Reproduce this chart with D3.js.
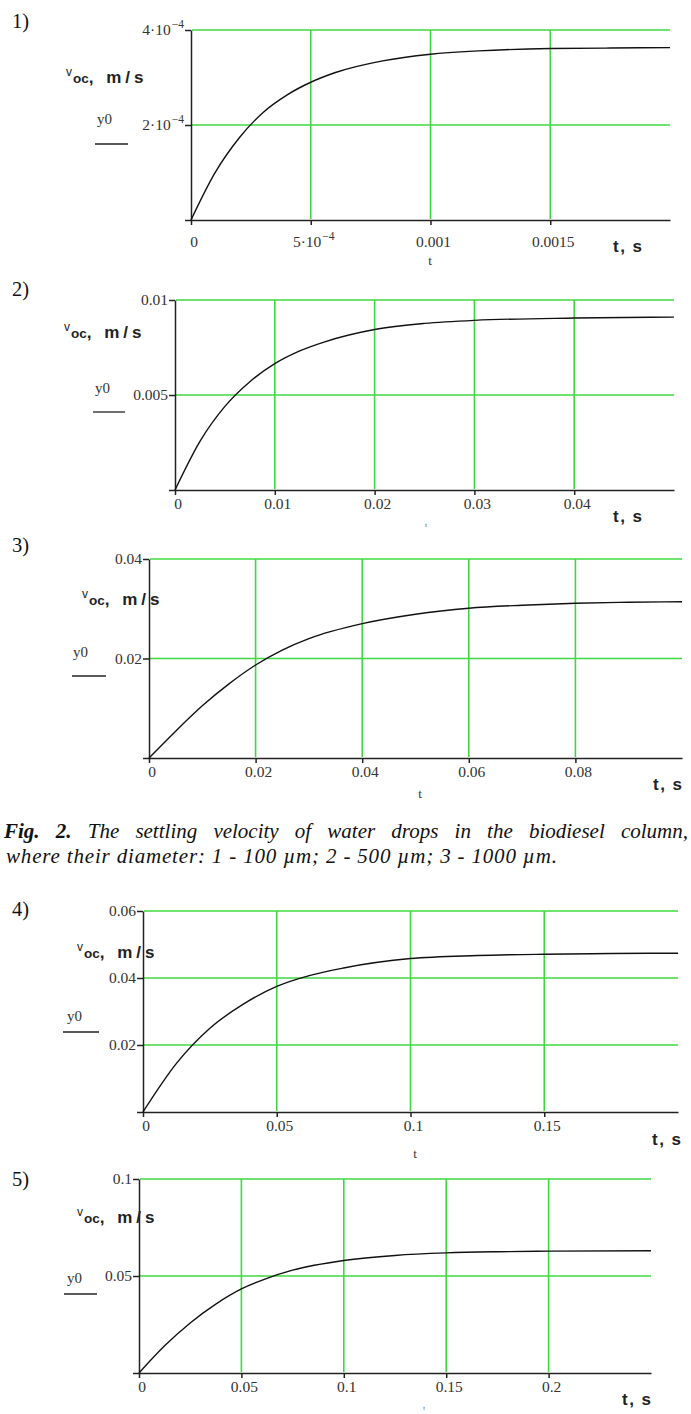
<!DOCTYPE html>
<html>
  <head>
    <style>
      body {
        margin: 0;
        background: #fff;
      }
      svg {
        display: block;
      }
      .grid {
        stroke: #3fd93f;
        stroke-width: 1.6px;
      }
      .axis path, .axis line {
        stroke: #222;
        stroke-width: 1.5px;
      }
      .tick-label {
        font-family: "Liberation Serif", serif;
        font-size: 15.5px;
        fill: #333;
      }
      .curve {
        fill: none;
        stroke: #111;
        stroke-width: 1.4px;
      }
    </style>
  </head>
  <body>
    <script src="https://d3js.org/d3.v7.min.js"></script>
    <script>
      // values: t in s, v in m/s
      const t1 = [0, 1e-4, 2e-4, 3e-4, 4e-4, 5e-4, 6e-4, 8e-4, 1e-3, 1.2e-3, 1.5e-3, 1.75e-3, 2e-3],
          v1 = [0, 0.99e-4, 1.72e-4, 2.26e-4, 2.63e-4, 2.90e-4, 3.10e-4, 3.35e-4, 3.49e-4, 3.56e-4, 3.61e-4, 3.62e-4, 3.63e-4];
      const t2 = [0, 0.0025, 0.005, 0.0075, 0.01, 0.0125, 0.015, 0.02, 0.025, 0.03, 0.04, 0.05],
          v2 = [0, 0.00256, 0.0044, 0.0057, 0.00665, 0.00732, 0.0078, 0.00845, 0.00877, 0.00893, 0.00905, 0.0091];
      const t3 = [0, 0.005, 0.01, 0.015, 0.02, 0.025, 0.03, 0.04, 0.05, 0.06, 0.07, 0.08, 0.09, 0.1],
          v3 = [0, 0.0054, 0.0105, 0.0149, 0.0187, 0.0217, 0.024, 0.027, 0.0289, 0.0301, 0.0307, 0.0311, 0.0313, 0.0314];
      const t4 = [0, 0.0125, 0.025, 0.0375, 0.05, 0.0625, 0.075, 0.1, 0.125, 0.15, 0.175, 0.2],
          v4 = [0, 0.0145, 0.025, 0.0322, 0.0375, 0.0408, 0.043, 0.0458, 0.0467, 0.0471, 0.0473, 0.0474];
      const t5 = [0, 0.0125, 0.025, 0.0375, 0.05, 0.0625, 0.075, 0.1, 0.125, 0.15, 0.175, 0.2, 0.25],
          v5 = [0, 0.014, 0.0258, 0.0355, 0.0433, 0.0488, 0.053, 0.058, 0.0606, 0.0619, 0.0625, 0.0628, 0.063];

      const xMax = [0.002, 0.05, 0.1, 0.2, 0.25],
          yMax = [4e-4, 0.01, 0.04, 0.06, 0.1];

      const xTicks = [
        [0, 5e-4, 0.001, 0.0015],
        [0, 0.01, 0.02, 0.03, 0.04],
        [0, 0.02, 0.04, 0.06, 0.08],
        [0, 0.05, 0.1, 0.15],
        [0, 0.05, 0.1, 0.15, 0.2]
      ];
      const xLabels = [
        ["0", "5·10^−4", "0.001", "0.0015"],
        ["0", "0.01", "0.02", "0.03", "0.04"],
        ["0", "0.02", "0.04", "0.06", "0.08"],
        ["0", "0.05", "0.1", "0.15"],
        ["0", "0.05", "0.1", "0.15", "0.2"]
      ];
      const yTicks = [
        [2e-4, 4e-4],
        [0.005, 0.01],
        [0.02, 0.04],
        [0.02, 0.04, 0.06],
        [0.05, 0.1]
      ];
      const yLabels = [
        ["2·10^−4", "4·10^−4"],
        ["0.005", "0.01"],
        ["0.02", "0.04"],
        ["0.02", "0.04", "0.06"],
        ["0.05", "0.1"]
      ];
      const panelNames = ["1)", "2)", "3)", "4)", "5)"];
      const series = [[t1, v1], [t2, v2], [t3, v3], [t4, v4], [t5, v5]];

      // where each panel sits on the page
      const layout = [
        {box: [191, 670, 30, 220], num: [12, 28], vl: [66, 83], y0: [97, 124, 95, 128, 144], tl: [430, 265, 13], ts: [613, 252], xDy: 27},
        {box: [175, 674, 300, 490], num: [12, 296], vl: [64, 338], y0: [95, 393, 93, 125, 412], tl: [426, 527, 6], ts: [613, 522], xDy: 19},
        {box: [149, 682, 559, 758], num: [12, 552], vl: [82, 605], y0: [73, 657, 72, 106, 676], tl: [420, 798, 13], ts: [653, 790], xDy: 19},
        {box: [143, 678, 911, 1112], num: [12, 916], vl: [77, 958], y0: [67, 1021, 63, 99, 1032], tl: [415, 1158, 13], ts: [652, 1145], xDy: 19},
        {box: [139, 651, 1179, 1373], num: [12, 1186], vl: [77, 1223], y0: [67, 1283, 64, 97, 1294], tl: [424, 1410, 6], ts: [622, 1405], xDy: 19}
      ];

      const svg = d3.select("body").append("svg")
          .attr("width", 691)
          .attr("height", 1414);

      layout.forEach((L, i) => drawPanel(i, L));

      // caption, first line justified by widening the word gaps
      const capLine1 = " The settling velocity of water drops in the biodiesel column,";
      const cap1 = svg.append("text")
          .attr("x", 4)
          .attr("y", 838)
          .attr("font-family", "Liberation Serif")
          .attr("font-size", 21)
          .attr("font-style", "italic")
          .attr("fill", "#111");
      cap1.append("tspan").attr("font-weight", "bold").text("Fig. 2.");
      cap1.append("tspan").text(capLine1);
      const gaps = capLine1.split(" ").length;
      const extra = 684 - cap1.node().getComputedTextLength();
      cap1.attr("word-spacing", Math.max(0, extra / gaps));

      svg.append("text")
          .attr("x", 6)
          .attr("y", 863)
          .attr("font-family", "Liberation Serif")
          .attr("font-size", 21)
          .attr("font-style", "italic")
          .attr("fill", "#111")
          .attr("textLength", 551)
          .attr("lengthAdjust", "spacing")
          .text("where their diameter: 1 - 100 µm; 2 - 500 µm; 3 - 1000 µm.");

      function drawPanel(i, L){
        const [tv, vv] = series[i];
        const x = d3.scaleLinear()
            .domain([0, xMax[i]])
            .range([L.box[0], L.box[1]]);
        const y = d3.scaleLinear()
            .domain([0, yMax[i]])
            .range([L.box[3], L.box[2]]);

        const g = svg.append("g");

        g.selectAll(".hgrid")
          .data(yTicks[i])
          .join("line")
            .attr("class", "grid")
            .attr("x1", x(0) + 1)
            .attr("x2", x(xMax[i]))
            .attr("y1", d => y(d))
            .attr("y2", d => y(d));

        g.selectAll(".vgrid")
          .data(xTicks[i].filter(d => d > 0))
          .join("line")
            .attr("class", "grid")
            .attr("x1", d => x(d))
            .attr("x2", d => x(d))
            .attr("y1", y(yMax[i]))
            .attr("y2", y(0) - 1);

        g.append("g")
            .attr("class", "axis")
            .attr("transform", `translate(0,${y(0)})`)
            .call(d3.axisBottom(x).tickValues(xTicks[i]).tickSize(5).tickSizeOuter(0).tickFormat(""));

        g.append("g")
            .attr("class", "axis")
            .attr("transform", `translate(${x(0)},0)`)
            .call(d3.axisLeft(y).tickValues([0].concat(yTicks[i])).tickSize(6).tickSizeOuter(0).tickFormat(""));

        xTicks[i].forEach((d, k) => {
          const txt = g.append("text")
              .attr("class", "tick-label")
              .attr("x", x(d) + 3)
              .attr("y", y(0) + L.xDy)
              .attr("text-anchor", "middle");
          addLabel(txt, xLabels[i][k]);
        });

        yTicks[i].forEach((d, k) => {
          const txt = g.append("text")
              .attr("class", "tick-label")
              .attr("x", x(0) - 7)
              .attr("y", y(d) + 5)
              .attr("text-anchor", "end");
          addLabel(txt, yLabels[i][k]);
        });

        g.append("path")
            .datum(d3.zip(tv, vv))
            .attr("class", "curve")
            .attr("d", d3.line()
              .x(d => x(d[0]))
              .y(d => y(d[1]))
              .curve(d3.curveMonotoneX));

        // panel number
        g.append("text")
            .attr("x", L.num[0])
            .attr("y", L.num[1])
            .attr("font-family", "Liberation Serif")
            .attr("font-size", 20.5)
            .attr("fill", "#111")
            .text(panelNames[i]);

        // v_oc, m/s
        const vl = g.append("text")
            .attr("x", L.vl[0])
            .attr("y", L.vl[1])
            .attr("font-family", "Liberation Sans")
            .attr("fill", "#222");
        vl.append("tspan").attr("font-size", 12).attr("dy", -7).text("v");
        vl.append("tspan").attr("font-size", 13.5).attr("font-weight", "bold").attr("dy", 7).attr("dx", 1).text("oc");
        vl.append("tspan").attr("font-size", 17).attr("font-weight", "bold").attr("letter-spacing", 4).text(", m/s");

        // y0 legend
        g.append("text")
            .attr("x", L.y0[0])
            .attr("y", L.y0[1])
            .attr("font-family", "Liberation Serif")
            .attr("font-size", 15)
            .attr("fill", "#333")
            .text("y0");
        g.append("line")
            .attr("x1", L.y0[2])
            .attr("x2", L.y0[3])
            .attr("y1", L.y0[4])
            .attr("y2", L.y0[4])
            .attr("stroke", "#222")
            .attr("stroke-width", 1.3);

        // small t under the axis
        g.append("text")
            .attr("x", L.tl[0])
            .attr("y", L.tl[1])
            .attr("font-family", "Liberation Serif")
            .attr("font-size", L.tl[2])
            .attr("fill", "#333")
            .attr("text-anchor", "middle")
            .text("t");

        // t, s
        g.append("text")
            .attr("x", L.ts[0])
            .attr("y", L.ts[1])
            .attr("font-family", "Liberation Sans")
            .attr("font-size", 17)
            .attr("font-weight", "bold")
            .attr("letter-spacing", 1.5)
            .attr("fill", "#222")
            .text("t, s");
      }

      // "a^b" -> a with superscript b
      function addLabel(sel, str){
        const [base, sup] = str.split("^");
        sel.append("tspan").text(base);
        if (sup){
          sel.append("tspan")
              .attr("dy", -7)
              .attr("dx", 1)
              .attr("font-size", 11.5)
              .text(sup);
        }
      }
    </script>
  </body>
</html>
